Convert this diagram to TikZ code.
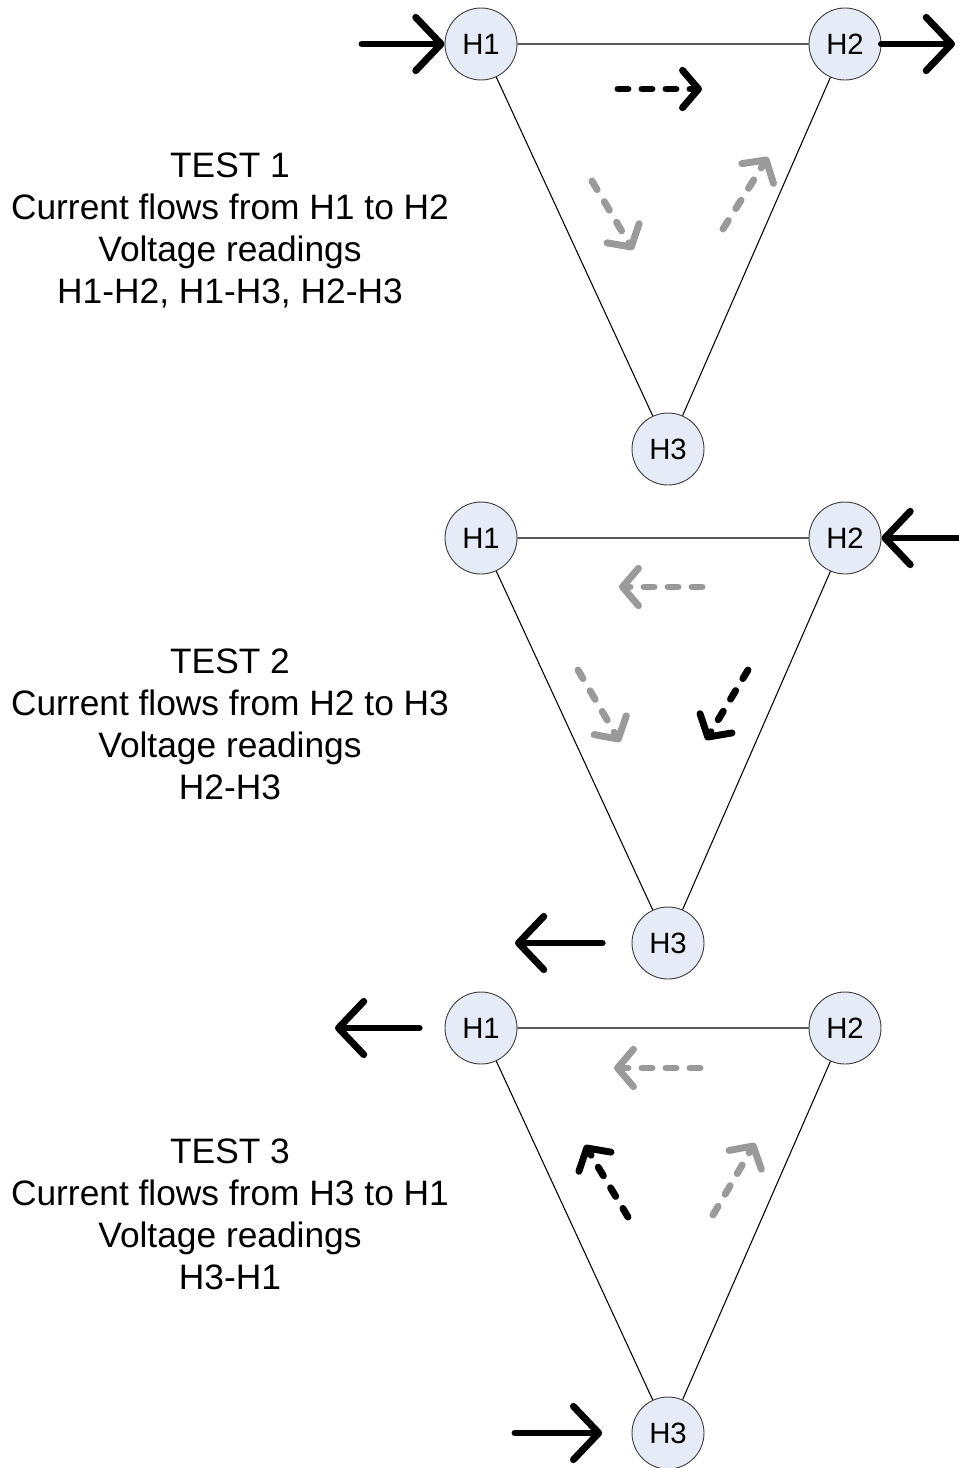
\documentclass[tikz,border=0pt]{standalone}
\usepackage{fontspec}
\setmainfont{Liberation Sans}
\usepackage{xcolor}
\definecolor{dnxanh}{HTML}{E6ECF7}
\definecolor{dnxam}{HTML}{9A9A9A}
\def\mycolor{dnxanh}
\def\maunet{dnxam}
\usepackage{tikz}
\usetikzlibrary{arrows.meta,positioning}

\begin{document}
\begin{tikzpicture}[x=0.75pt,y=-0.75pt,declare function={%
			dx=364;
			dxh=187;
			dy=405;
		}
		]%
		\tikzset{
			nut/.style={circle,draw=black!75,fill=\mycolor,minimum size=54pt,inner sep=0pt,line width=0.7pt,font=\fontsize{22}{24}\selectfont},
			canh/.style={line width=0.8pt},
			delta/.pic={%
				\node[nut] (-h1) at (0,0) {H1};
				\node[nut] (-h2) at (dx,0) {H2};
				\node[nut] (-h3) at (dxh,dy) {H3};
				\draw[canh] (-h1) -- (-h2) (-h1) -- (-h3) (-h2) -- (-h3);
			},
			muitenlon/.style={line width=5.2pt,line cap=round,-{Straight Barb[length=19pt,width=40pt,round]}},
			muitennet/.style={line width=5.2pt,line cap=round,dash pattern=on 7.5pt off 10.5pt,-{Straight Barb[length=12pt,width=28pt,round]}},
			stylefont/.style={font=\fontsize{26.5}{31.5}\selectfont,align=center,text=black}
		}
		\useasboundingbox (0,0) rectangle (958,1468);
		%% test 1
		\path (481,44) pic (t1) {delta};
		\node[stylefont] (test1) at (230,230) {TEST 1\\Current flows from H1 to H2\\Voltage readings\\H1-H2, H1-H3, H2-H3};
		\draw[muitenlon] (362,44) -- (t1-h1);
		\draw[muitenlon] (t1-h2) -- (955,44);
		\draw[muitennet] (618,89) -- (702,89);
		\draw[muitennet,\maunet] (592,181) -- (633,250);
		\draw[muitennet,\maunet] (723,229) -- (768,157);
		%% test 2
		\path (481,538) pic (t2) {delta};
		\node[stylefont] (test2) at (230,724) {TEST 2\\Current flows from H2 to H3\\Voltage readings\\H2-H3};
		\draw[muitenlon] (958,538) -- (t2-h2);
		\draw[muitenlon,shorten <=22pt] (t2-h3) -- (515,943);
		\draw[muitennet,\maunet] (702,587) -- (619,587);
		\draw[muitennet,\maunet] (578,670) -- (620,742);
		\draw[muitennet] (748,670) -- (706,740);
		%% test 3
		\path (481,1028) pic (t3) {delta};
		\node[stylefont] (test3) at (230,1214) {TEST 3\\Current flows from H3 to H1\\Voltage readings\\H3-H1};
		\draw[muitenlon,shorten <=19pt] (t3-h1) -- (335,1028);
		\draw[muitenlon,shorten >=22pt] (515,1433) -- (t3-h3);
		\draw[muitennet,\maunet] (700,1068) -- (614,1068);
		\draw[muitennet] (628,1217) -- (585,1145);
		\draw[muitennet,\maunet] (713,1215) -- (755,1143);
	\end{tikzpicture}
\end{document}
